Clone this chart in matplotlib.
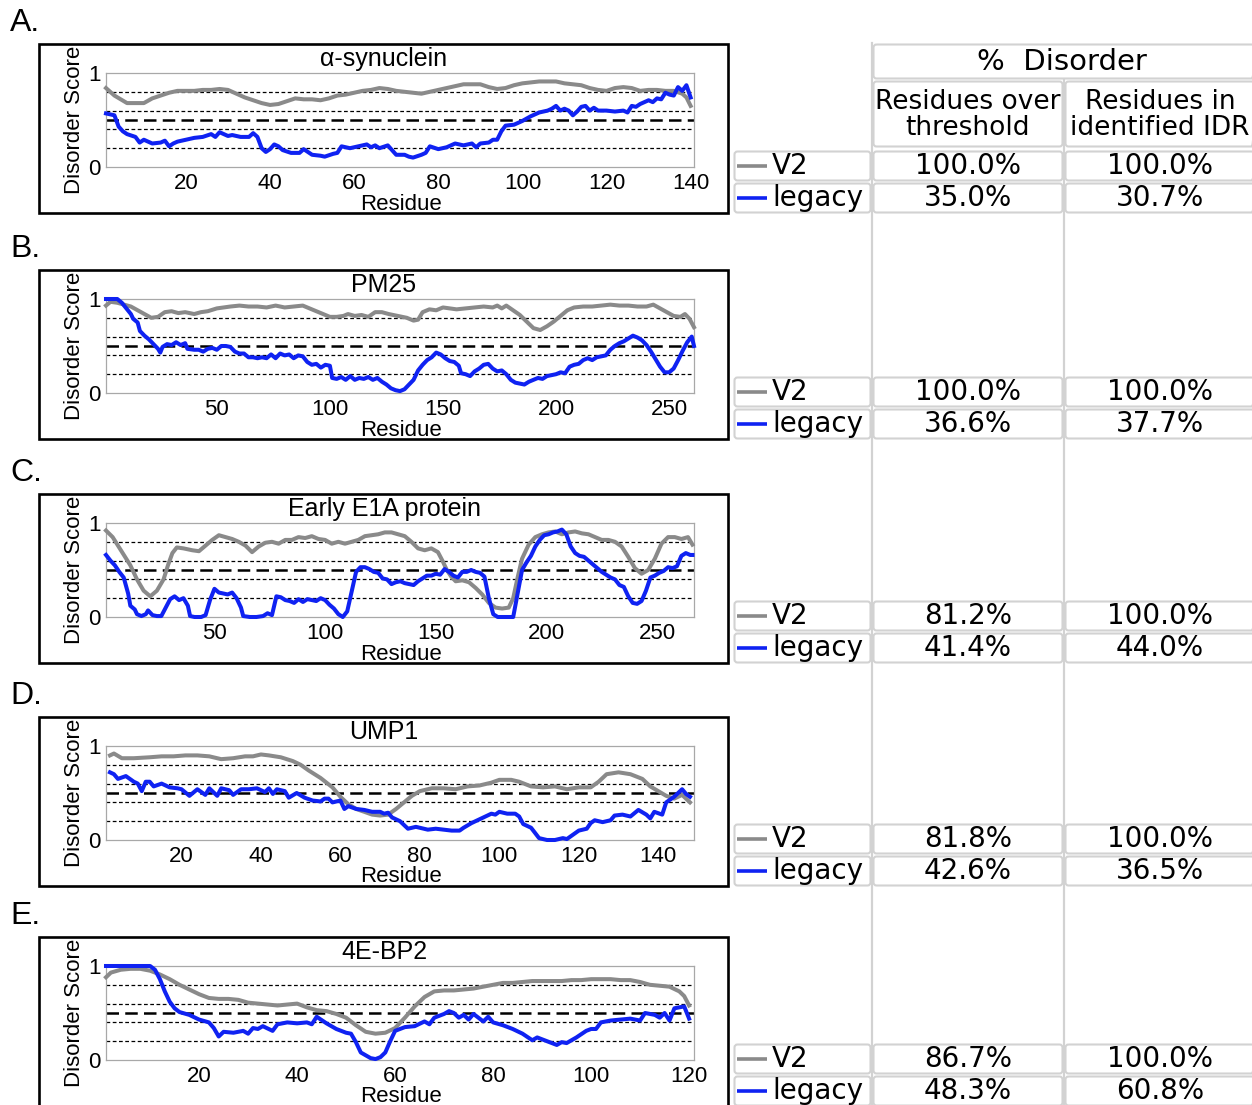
import matplotlib
matplotlib.use("Agg")
import matplotlib.pyplot as plt
from matplotlib.patches import Rectangle, FancyBboxPatch

plt.rcParams['font.family'] = ['Liberation Sans', 'DejaVu Sans']

# --- disorder profiles (residue, score) ---
# A. alpha-synuclein
asyn_x_v2 = [1, 3, 6, 8, 10, 12, 16, 18, 20, 22, 24, 26, 28, 30, 32, 34, 36, 38, 40, 42, 44, 46, 48, 50,
             52, 54, 56, 58, 60, 62, 64, 66, 68, 70, 72, 74, 76, 78, 80, 82, 84, 86, 88, 90, 92, 94, 96,
             98, 100, 102, 104, 106, 108, 110, 112, 114, 116, 118, 120, 122, 124, 126, 128, 130, 132,
             134, 136, 138, 139, 140]
asyn_v2 = [0.84, 0.76, 0.68, 0.68, 0.68, 0.73, 0.79, 0.81, 0.81, 0.81, 0.82, 0.82, 0.83, 0.82, 0.78,
           0.74, 0.71, 0.68, 0.66, 0.67, 0.70, 0.73, 0.72, 0.72, 0.71, 0.73, 0.76, 0.77, 0.79, 0.81,
           0.82, 0.84, 0.83, 0.81, 0.80, 0.79, 0.78, 0.80, 0.82, 0.84, 0.86, 0.88, 0.88, 0.88, 0.85,
           0.83, 0.84, 0.87, 0.89, 0.90, 0.91, 0.91, 0.91, 0.89, 0.88, 0.87, 0.84, 0.82, 0.81, 0.84,
           0.85, 0.84, 0.81, 0.82, 0.82, 0.81, 0.81, 0.78, 0.74, 0.65]
asyn_x_leg = [1, 3, 4, 5, 6, 8, 9, 10, 12, 14, 15, 16, 17, 18, 20, 22, 24, 26, 27, 28, 30, 31, 33, 35,
              36, 37, 38, 39, 40, 41, 42, 43, 45, 47, 48, 50, 52, 53, 55, 56, 57, 59, 61, 63, 64, 65,
              66, 68, 70, 72, 73, 74, 76, 77, 78, 80, 82, 84, 86, 88, 89, 90, 92, 93, 94, 95, 96, 98,
              100, 102, 104, 106, 107, 108, 109, 110, 111, 112, 113, 114, 115, 116, 117, 118, 120,
              122, 124, 125, 126, 127, 128, 130, 131, 132, 133, 134, 135, 136, 137, 138, 139, 140]
asyn_leg = [0.57, 0.55, 0.43, 0.38, 0.35, 0.32, 0.26, 0.29, 0.25, 0.26, 0.28, 0.22, 0.25, 0.27, 0.29,
            0.31, 0.32, 0.35, 0.32, 0.37, 0.33, 0.34, 0.32, 0.32, 0.36, 0.32, 0.20, 0.16, 0.19, 0.24,
            0.22, 0.18, 0.15, 0.15, 0.19, 0.13, 0.12, 0.11, 0.14, 0.15, 0.22, 0.20, 0.22, 0.24, 0.21,
            0.23, 0.20, 0.23, 0.13, 0.13, 0.11, 0.10, 0.13, 0.15, 0.22, 0.19, 0.21, 0.25, 0.23, 0.25,
            0.21, 0.25, 0.26, 0.29, 0.29, 0.38, 0.44, 0.45, 0.49, 0.54, 0.58, 0.60, 0.62, 0.65, 0.60,
            0.62, 0.60, 0.55, 0.59, 0.64, 0.65, 0.60, 0.63, 0.60, 0.60, 0.59, 0.60, 0.58, 0.65, 0.64,
            0.67, 0.71, 0.69, 0.73, 0.72, 0.79, 0.77, 0.76, 0.85, 0.81, 0.87, 0.74]

# B. PM25
pm25_x_v2 = [1, 3, 6, 9, 12, 15, 18, 21, 24, 27, 30, 33, 36, 40, 43, 46, 50, 53, 56, 60, 64, 68, 72,
             76, 80, 84, 88, 91, 94, 97, 100, 103, 106, 108, 111, 114, 117, 120, 123, 126, 130, 134,
             137, 139, 141, 144, 147, 150, 153, 156, 160, 164, 168, 172, 174, 176, 178, 181, 184,
             187, 190, 193, 196, 199, 202, 205, 208, 212, 216, 220, 224, 228, 232, 236, 240, 243,
             246, 249, 252, 255, 257, 259, 261]
pm25_v2 = [0.93, 0.97, 0.96, 0.94, 0.92, 0.88, 0.84, 0.80, 0.81, 0.86, 0.87, 0.85, 0.86, 0.84, 0.86,
           0.87, 0.90, 0.91, 0.92, 0.93, 0.92, 0.92, 0.91, 0.93, 0.91, 0.92, 0.93, 0.90, 0.87, 0.84,
           0.81, 0.81, 0.82, 0.84, 0.82, 0.83, 0.81, 0.86, 0.86, 0.84, 0.82, 0.80, 0.77, 0.78, 0.86,
           0.89, 0.88, 0.91, 0.90, 0.89, 0.90, 0.91, 0.92, 0.91, 0.93, 0.90, 0.93, 0.88, 0.83, 0.76,
           0.69, 0.67, 0.71, 0.76, 0.82, 0.88, 0.91, 0.92, 0.92, 0.93, 0.94, 0.93, 0.93, 0.92, 0.92,
           0.94, 0.90, 0.86, 0.82, 0.81, 0.84, 0.79, 0.70]
pm25_x_leg = [1, 6, 8, 10, 12, 13, 15, 16, 18, 20, 22, 24, 25, 26, 28, 30, 32, 34, 36, 37, 40, 42, 44,
              46, 48, 50, 52, 54, 56, 58, 60, 62, 64, 66, 68, 70, 72, 74, 76, 78, 80, 82, 84, 86, 88,
              90, 92, 94, 96, 98, 100, 101, 103, 105, 107, 109, 111, 113, 115, 117, 119, 121, 123,
              125, 127, 129, 131, 133, 135, 137, 139, 141, 143, 145, 147, 149, 151, 153, 155, 157,
              158, 160, 162, 164, 166, 168, 170, 172, 174, 176, 178, 180, 182, 184, 186, 188, 190,
              192, 194, 196, 198, 200, 202, 204, 206, 208, 210, 212, 214, 216, 218, 220, 222, 224,
              226, 228, 230, 232, 234, 236, 238, 240, 242, 244, 246, 248, 250, 252, 254, 256, 258,
              260, 261]
pm25_leg = [1.00, 1.00, 0.96, 0.90, 0.84, 0.79, 0.75, 0.66, 0.61, 0.57, 0.52, 0.47, 0.43, 0.49, 0.52,
            0.51, 0.54, 0.51, 0.53, 0.47, 0.46, 0.46, 0.44, 0.47, 0.48, 0.46, 0.50, 0.50, 0.49, 0.44,
            0.42, 0.42, 0.38, 0.38, 0.37, 0.38, 0.37, 0.41, 0.37, 0.42, 0.40, 0.41, 0.37, 0.40, 0.39,
            0.33, 0.30, 0.31, 0.27, 0.30, 0.29, 0.16, 0.15, 0.17, 0.14, 0.18, 0.14, 0.16, 0.15, 0.17,
            0.14, 0.16, 0.12, 0.09, 0.05, 0.03, 0.02, 0.04, 0.09, 0.14, 0.24, 0.30, 0.35, 0.38, 0.43,
            0.41, 0.37, 0.34, 0.33, 0.29, 0.21, 0.20, 0.18, 0.23, 0.26, 0.30, 0.31, 0.26, 0.23, 0.24,
            0.20, 0.14, 0.11, 0.10, 0.09, 0.12, 0.14, 0.16, 0.15, 0.18, 0.19, 0.20, 0.22, 0.21, 0.28,
            0.30, 0.31, 0.35, 0.37, 0.35, 0.38, 0.39, 0.40, 0.46, 0.50, 0.53, 0.55, 0.58, 0.61, 0.59,
            0.56, 0.51, 0.44, 0.36, 0.28, 0.22, 0.22, 0.26, 0.35, 0.45, 0.54, 0.60, 0.50]

# C. Early E1A protein
e1a_x_v2 = [1, 4, 8, 12, 15, 18, 21, 24, 27, 29, 31, 33, 36, 40, 43, 46, 49, 52, 55, 58, 61, 64, 67,
            70, 73, 76, 79, 82, 85, 88, 91, 94, 97, 100, 103, 106, 109, 112, 115, 118, 121, 124, 127,
            130, 133, 136, 139, 142, 145, 148, 151, 153, 155, 157, 159, 162, 165, 168, 171, 174, 177,
            180, 183, 185, 187, 189, 192, 195, 198, 201, 204, 207, 210, 213, 216, 219, 222, 225, 228,
            231, 234, 237, 240, 243, 246, 249, 252, 255, 258, 261, 264, 266]
e1a_v2 = [0.92, 0.85, 0.70, 0.55, 0.40, 0.28, 0.22, 0.28, 0.40, 0.55, 0.68, 0.74, 0.73, 0.71, 0.70,
          0.76, 0.82, 0.87, 0.85, 0.83, 0.80, 0.76, 0.69, 0.75, 0.79, 0.80, 0.78, 0.82, 0.82, 0.85,
          0.84, 0.86, 0.83, 0.82, 0.78, 0.80, 0.78, 0.80, 0.82, 0.86, 0.87, 0.88, 0.90, 0.90, 0.88,
          0.86, 0.80, 0.73, 0.71, 0.73, 0.69, 0.60, 0.50, 0.43, 0.38, 0.39, 0.37, 0.31, 0.24, 0.15,
          0.10, 0.09, 0.10, 0.20, 0.42, 0.62, 0.77, 0.85, 0.88, 0.90, 0.91, 0.88, 0.90, 0.91, 0.89,
          0.88, 0.85, 0.82, 0.82, 0.80, 0.75, 0.64, 0.52, 0.46, 0.50, 0.62, 0.78, 0.85, 0.85, 0.83,
          0.85, 0.77]
e1a_x_leg = [1, 3, 5, 7, 9, 11, 12, 14, 15, 17, 19, 20, 22, 24, 26, 28, 30, 32, 34, 36, 38, 39, 41,
             44, 46, 48, 50, 52, 54, 56, 58, 60, 62, 63, 66, 69, 72, 74, 76, 78, 80, 82, 84, 86, 88,
             90, 92, 94, 96, 98, 100, 102, 104, 106, 108, 110, 112, 114, 116, 118, 120, 122, 124,
             126, 128, 130, 132, 134, 136, 138, 140, 142, 144, 146, 148, 150, 152, 154, 156, 158,
             160, 162, 164, 166, 168, 170, 172, 174, 176, 178, 182, 185, 187, 189, 191, 193, 195,
             197, 199, 201, 203, 205, 207, 209, 211, 213, 215, 217, 219, 221, 223, 225, 227, 229,
             231, 233, 235, 237, 239, 241, 243, 245, 247, 249, 251, 253, 255, 257, 259, 261, 263,
             265, 266]
e1a_leg = [0.66, 0.60, 0.55, 0.48, 0.42, 0.25, 0.12, 0.08, 0.03, 0.01, 0.03, 0.07, 0.02, 0.01, 0.01,
           0.10, 0.19, 0.22, 0.18, 0.20, 0.12, 0.01, 0.00, 0.00, 0.02, 0.18, 0.30, 0.26, 0.25, 0.24,
           0.26, 0.20, 0.10, 0.01, 0.00, 0.00, 0.01, 0.04, 0.02, 0.22, 0.21, 0.18, 0.17, 0.15, 0.19,
           0.16, 0.19, 0.18, 0.17, 0.20, 0.18, 0.13, 0.09, 0.03, 0.00, 0.06, 0.27, 0.48, 0.53, 0.53,
           0.51, 0.48, 0.47, 0.41, 0.40, 0.35, 0.37, 0.38, 0.36, 0.35, 0.34, 0.38, 0.41, 0.44, 0.44,
           0.46, 0.45, 0.51, 0.48, 0.44, 0.42, 0.48, 0.48, 0.50, 0.48, 0.47, 0.43, 0.20, 0.03, 0.00,
           0.00, 0.00, 0.25, 0.50, 0.58, 0.65, 0.75, 0.82, 0.87, 0.88, 0.90, 0.91, 0.93, 0.88, 0.75,
           0.68, 0.65, 0.64, 0.60, 0.56, 0.52, 0.48, 0.45, 0.42, 0.40, 0.34, 0.32, 0.22, 0.15, 0.14,
           0.17, 0.28, 0.42, 0.44, 0.47, 0.49, 0.53, 0.52, 0.54, 0.65, 0.68, 0.66, 0.66]

# D. UMP1
ump1_x_v2 = [2, 3, 5, 8, 12, 15, 18, 21, 24, 27, 30, 33, 36, 38, 40, 42, 45, 48, 50, 52, 55, 58, 60,
             62, 64, 66, 68, 70, 72, 74, 76, 78, 80, 83, 86, 89, 92, 95, 98, 100, 103, 105, 108, 111,
             114, 117, 120, 123, 125, 127, 130, 133, 136, 138, 140, 142, 144, 146, 148]
ump1_v2 = [0.90, 0.92, 0.87, 0.87, 0.88, 0.89, 0.89, 0.90, 0.90, 0.89, 0.86, 0.87, 0.89, 0.89, 0.91,
           0.90, 0.88, 0.84, 0.80, 0.74, 0.66, 0.56, 0.46, 0.38, 0.33, 0.30, 0.27, 0.26, 0.27, 0.33,
           0.40, 0.47, 0.52, 0.55, 0.55, 0.54, 0.57, 0.58, 0.61, 0.64, 0.64, 0.62, 0.57, 0.56, 0.57,
           0.54, 0.56, 0.56, 0.62, 0.70, 0.72, 0.70, 0.65, 0.57, 0.52, 0.47, 0.44, 0.48, 0.40]
ump1_x_leg = [2, 3, 4, 6, 8, 9, 10, 11, 12, 13, 15, 17, 19, 20, 22, 24, 26, 27, 29, 30, 32, 33, 35, 37,
              39, 41, 42, 43, 44, 46, 47, 49, 51, 53, 55, 56, 57, 58, 60, 61, 62, 64, 66, 68, 70, 71,
              72, 73, 75, 77, 79, 80, 82, 84, 86, 88, 90, 91, 93, 95, 97, 98, 99, 100, 102, 104, 105,
              106, 108, 110, 112, 114, 116, 117, 118, 120, 122, 123, 124, 126, 128, 129, 131, 133,
              135, 137, 138, 139, 141, 142, 144, 146, 147, 148]
ump1_leg = [0.72, 0.70, 0.65, 0.68, 0.62, 0.60, 0.52, 0.62, 0.62, 0.57, 0.60, 0.56, 0.55, 0.54, 0.47,
            0.54, 0.48, 0.55, 0.47, 0.55, 0.53, 0.48, 0.54, 0.54, 0.55, 0.51, 0.55, 0.49, 0.54, 0.52,
            0.45, 0.50, 0.45, 0.42, 0.41, 0.44, 0.44, 0.40, 0.42, 0.33, 0.36, 0.33, 0.32, 0.30, 0.30,
            0.28, 0.29, 0.24, 0.20, 0.12, 0.14, 0.13, 0.11, 0.12, 0.11, 0.10, 0.10, 0.13, 0.18, 0.22,
            0.26, 0.28, 0.27, 0.30, 0.28, 0.28, 0.25, 0.17, 0.13, 0.02, 0.00, 0.00, 0.02, 0.01, 0.04,
            0.10, 0.12, 0.18, 0.21, 0.19, 0.21, 0.26, 0.27, 0.25, 0.32, 0.27, 0.23, 0.30, 0.27, 0.40,
            0.46, 0.54, 0.49, 0.46]

# E. 4E-BP2
bp2_x_v2 = [1, 2, 4, 6, 8, 10, 12, 14, 16, 18, 20, 22, 24, 26, 28, 30, 32, 34, 36, 38, 40, 42, 44, 46,
            48, 50, 52, 54, 56, 58, 60, 62, 64, 66, 68, 70, 72, 74, 76, 78, 80, 82, 84, 86, 88, 90,
            92, 94, 96, 98, 100, 102, 104, 106, 108, 110, 112, 114, 116, 118, 119, 120]
bp2_v2 = [0.88, 0.93, 0.96, 0.97, 0.97, 0.95, 0.91, 0.86, 0.80, 0.75, 0.70, 0.66, 0.65, 0.65, 0.64,
          0.61, 0.60, 0.59, 0.58, 0.59, 0.60, 0.56, 0.53, 0.52, 0.49, 0.45, 0.37, 0.30, 0.28, 0.29,
          0.34, 0.45, 0.57, 0.67, 0.73, 0.74, 0.74, 0.75, 0.76, 0.78, 0.80, 0.82, 0.82, 0.83, 0.84,
          0.84, 0.84, 0.84, 0.85, 0.85, 0.86, 0.86, 0.86, 0.85, 0.85, 0.83, 0.80, 0.79, 0.78, 0.73,
          0.68, 0.58]
bp2_x_leg = [1, 10, 11, 12, 13, 14, 15, 16, 18, 20, 22, 23, 24, 25, 27, 29, 30, 31, 32, 33, 35, 36,
             38, 40, 42, 43, 44, 46, 48, 50, 51, 52, 53, 55, 56, 57, 58, 59, 60, 62, 64, 66, 67, 68,
             70, 71, 72, 73, 74, 75, 76, 78, 79, 80, 82, 84, 86, 88, 89, 91, 93, 94, 95, 97, 99, 100,
             101, 102, 104, 106, 108, 110, 111, 113, 114, 115, 116, 117, 119, 120]
bp2_leg = [1.00, 1.00, 0.96, 0.86, 0.73, 0.62, 0.55, 0.51, 0.48, 0.43, 0.40, 0.34, 0.25, 0.30, 0.29,
           0.31, 0.28, 0.34, 0.33, 0.36, 0.31, 0.38, 0.40, 0.39, 0.40, 0.38, 0.46, 0.39, 0.33, 0.29,
           0.28, 0.19, 0.08, 0.02, 0.01, 0.03, 0.08, 0.20, 0.31, 0.35, 0.36, 0.41, 0.38, 0.45, 0.49,
           0.52, 0.50, 0.45, 0.48, 0.43, 0.49, 0.41, 0.46, 0.40, 0.37, 0.33, 0.28, 0.21, 0.24, 0.20,
           0.16, 0.19, 0.18, 0.24, 0.31, 0.33, 0.33, 0.40, 0.42, 0.43, 0.44, 0.42, 0.50, 0.48, 0.45,
           0.50, 0.42, 0.55, 0.57, 0.44]

proteins = ['α-synuclein', 'PM25', 'Early E1A protein', 'UMP1', '4E-BP2']
panel_letters = ['A.', 'B.', 'C.', 'D.', 'E.']
x_v2 = [asyn_x_v2, pm25_x_v2, e1a_x_v2, ump1_x_v2, bp2_x_v2]
y_v2 = [asyn_v2, pm25_v2, e1a_v2, ump1_v2, bp2_v2]
x_leg = [asyn_x_leg, pm25_x_leg, e1a_x_leg, ump1_x_leg, bp2_x_leg]
y_leg = [asyn_leg, pm25_leg, e1a_leg, ump1_leg, bp2_leg]
x_limits = [(1, 140.8), (1, 261), (1, 266.7), (1, 149), (1, 121)]
x_ticks = [range(20, 141, 20), range(50, 251, 50), range(50, 251, 50), range(20, 141, 20), range(20, 121, 20)]
thresholds = [0.2, 0.4, 0.6, 0.8]

# % disorder table
over_threshold_v2 = [100.0, 100.0, 81.2, 81.8, 86.7]
over_threshold_legacy = [35.0, 36.6, 41.4, 42.6, 48.3]
in_idr_v2 = [100.0, 100.0, 100.0, 100.0, 100.0]
in_idr_legacy = [30.7, 37.7, 44.0, 36.5, 60.8]

GRAY = '#8a8a8a'
BLUE = '#0f22f2'
GRID = '#d2d2d2'
W, H = 1252, 1105

fig = plt.figure(figsize=(W / 100, H / 100), dpi=100)

# overlay in pixel units for frames, labels and the table
ov = fig.add_axes([0, 0, 1, 1])
ov.set_xlim(0, W)
ov.set_ylim(H, 0)
ov.axis('off')

box_tops = [43, 269, 493, 716, 936]
col_x = [733, 872, 1064, 1256]


def cell(x0, y0, x1, y1):
    ov.add_patch(FancyBboxPatch((x0 + 1.5, y0 + 1.5), x1 - x0 - 3, y1 - y0 - 3,
                                boxstyle='round,pad=0,rounding_size=3',
                                fc='none', ec=GRID, lw=1.5, zorder=2))


# continuous column separators
ov.plot([872, 872], [43, H + 5], color=GRID, lw=1.6, zorder=1)
ov.plot([1064, 1064], [80, H + 5], color=GRID, lw=1.6, zorder=1)

# header cells
cell(872, 43, 1256, 80)
cell(872, 80, 1064, 148)
cell(1064, 80, 1256, 148)
ov.text(1062, 62, '%  Disorder', ha='center', va='center', fontsize=21, family='DejaVu Sans')
ov.text(968, 115, 'Residues over\nthreshold', ha='center', va='center', fontsize=19,
        family='DejaVu Sans', linespacing=1.0)
ov.text(1160, 115, 'Residues in\nidentified IDR', ha='center', va='center', fontsize=19,
        family='DejaVu Sans', linespacing=1.0)

for i, top in enumerate(box_tops):
    # panel frame and labels
    ov.add_patch(Rectangle((39, top + 1), 689, 169, fc='none', ec='black', lw=1.9, zorder=3))
    ov.text(10, top - 20, panel_letters[i], ha='left', va='center', fontsize=23)
    ov.text(384, top + 16, proteins[i], ha='center', va='center', fontsize=18)
    ov.text(401, top + 161, 'Residue', ha='center', va='center', fontsize=16)
    ov.text(74, top + 77, 'Disorder Score', ha='center', va='center', rotation=90, fontsize=16)

    # profile plot
    ax = fig.add_axes([106 / W, 1 - (top + 124) / H, 588 / W, 94 / H])
    for t in thresholds:
        ax.axhline(t, color='black', lw=0.9, dashes=(3, 2), zorder=1)
    ax.axhline(0.5, color='black', lw=1.8, dashes=(5, 2.5), zorder=1)
    ax.plot(x_v2[i], y_v2[i], color=GRAY, lw=2.9, clip_on=False, zorder=3)
    ax.plot(x_leg[i], y_leg[i], color=BLUE, lw=2.9, clip_on=False, zorder=4)
    ax.set_xlim(*x_limits[i])
    ax.set_ylim(0, 1)
    ax.set_xticks(list(x_ticks[i]))
    ax.set_yticks([0, 1])
    ax.set_yticklabels(['0', '1'])
    ax.tick_params(length=0, labelsize=16, pad=4)
    for s in ax.spines.values():
        s.set_color('#a8a8a8')
        s.set_linewidth(0.9)

    # table rows for this protein
    row_top = top + 107
    rows = [('V2', GRAY, over_threshold_v2[i], in_idr_v2[i]),
            ('legacy', BLUE, over_threshold_legacy[i], in_idr_legacy[i])]
    for r, (name, color, over, idr) in enumerate(rows):
        y0 = row_top + 32 * r
        yc = y0 + 16
        for c in range(3):
            cell(col_x[c], y0, col_x[c + 1], y0 + 32)
        ov.plot([737, 767], [yc, yc], color=color, lw=2.6, solid_capstyle='butt', zorder=3)
        ov.text(772, yc, name, ha='left', va='center', fontsize=20, family='DejaVu Sans')
        ov.text(968, yc, f'{over:.1f}%', ha='center', va='center', fontsize=20, family='DejaVu Sans')
        ov.text(1160, yc, f'{idr:.1f}%', ha='center', va='center', fontsize=20, family='DejaVu Sans')

fig.savefig('out.png', dpi=100)
